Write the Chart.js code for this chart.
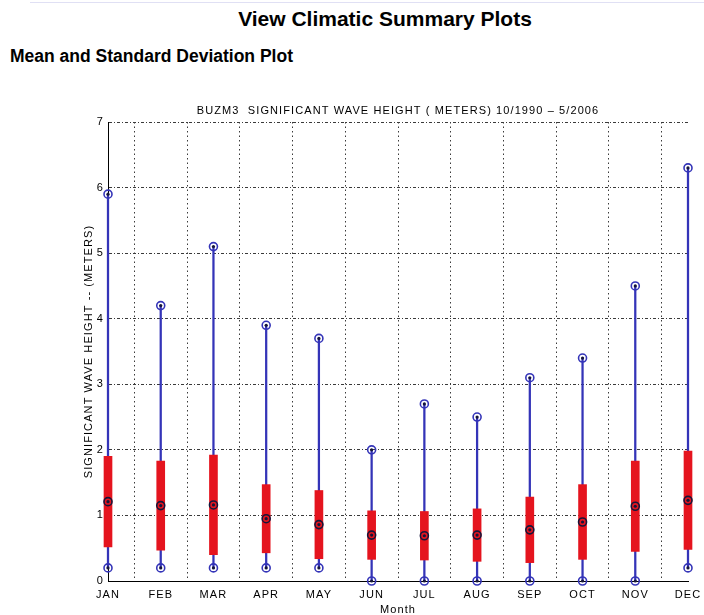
<!DOCTYPE html>
<html>
<head>
<meta charset="utf-8">
<script src="https://cdn.jsdelivr.net/npm/chart.js@4/dist/chart.umd.min.js"></script>
<style>
  html, body { margin: 0; padding: 0; background: #fff; }
  body { width: 704px; height: 615px; position: relative; overflow: hidden; font-family: "Liberation Sans", Arial, sans-serif; }
  .rule { position: absolute; left: 30px; top: 2px; width: 674px; height: 1px; background: #e0e0f4; }
  h1 { position: absolute; left: 0; width: 770px; top: 8px; margin: 0; font-size: 21px; line-height: 21px; font-weight: bold; text-align: center; color: #000; }
  h2 { position: absolute; left: 10px; top: 48px; margin: 0; font-size: 17.5px; line-height: 17.5px; font-weight: bold; color: #000; }
  #wrap { position: absolute; left: 0; top: 0; width: 704px; height: 615px; }
</style>
</head>
<body>
<div class="rule"></div>
<h1>View Climatic Summary Plots</h1>
<h2>Mean and Standard Deviation Plot</h2>
<div id="wrap"><canvas id="chart" width="704" height="615"></canvas></div>
<script>
// Monthly significant wave height statistics, station BUZM3
const months = ['JAN', 'FEB', 'MAR', 'APR', 'MAY', 'JUN', 'JUL', 'AUG', 'SEP', 'OCT', 'NOV', 'DEC'];
const meanHs = [1.21, 1.15, 1.16, 0.95, 0.86, 0.70, 0.69, 0.70, 0.78, 0.90, 1.14, 1.23];
const stdHs  = [0.69, 0.68, 0.76, 0.52, 0.52, 0.37, 0.37, 0.40, 0.50, 0.57, 0.69, 0.75];
const maxHs  = [5.9, 4.2, 5.1, 3.9, 3.7, 2.0, 2.7, 2.5, 3.1, 3.4, 4.5, 6.3];
const minHs  = [0.2, 0.2, 0.2, 0.2, 0.2, 0.0, 0.0, 0.0, 0.0, 0.0, 0.0, 0.2];
const yTicks = [0, 1, 2, 3, 4, 5, 6, 7];

const BLUE = '#3434b8';
const RED = '#e5141e';
const DARK = '#15153a';
const FONT = { family: '"Liberation Sans", Arial, sans-serif', size: 11, weight: 'normal' };

const rangeBars = months.map((m, i) => [minHs[i], maxHs[i]]);
const stdBars = months.map((m, i) => [meanHs[i] - stdHs[i], meanHs[i] + stdHs[i]]);

function markers(values, ring, order) {
  return {
    type: 'line', data: values, showLine: false, clip: false, order: order,
    pointStyle: 'circle', pointRadius: 4, pointHoverRadius: 4,
    pointBorderWidth: 1.6, pointBorderColor: ring, pointBackgroundColor: 'rgba(255,255,255,0)'
  };
}
function centres(values, order) {
  return {
    type: 'line', data: values, showLine: false, clip: false, order: order,
    pointStyle: 'circle', pointRadius: 1.6, pointHoverRadius: 1.6,
    pointBorderWidth: 0, pointBackgroundColor: DARK
  };
}

// Plot text is set with slightly open letter spacing
const spacedText = {
  id: 'spacedText',
  beforeUpdate(chart) { chart.ctx.letterSpacing = '1.1px'; },
  beforeDraw(chart) { chart.ctx.letterSpacing = '1.1px'; }
};

new Chart(document.getElementById('chart'), {
  type: 'bar',
  plugins: [spacedText],
  data: {
    labels: months,
    datasets: [
      { data: rangeBars, backgroundColor: BLUE, barThickness: 1.6, grouped: false, clip: false, order: 6, borderWidth: 0 },
      { data: stdBars, backgroundColor: RED, barThickness: 8, grouped: false, clip: false, order: 5, borderWidth: 0 },
      markers(maxHs, BLUE, 4),
      markers(minHs, BLUE, 4),
      markers(meanHs, DARK, 3),
      centres(maxHs, 1),
      centres(minHs, 1),
      centres(meanHs, 1)
    ]
  },
  options: {
    responsive: false,
    animation: false,
    events: [],
    layout: { padding: { left: 77, right: 16, top: 104, bottom: 0 } },
    plugins: {
      legend: { display: false },
      tooltip: { enabled: false },
      title: {
        display: true,
        fullSize: false,
        text: 'BUZM3  SIGNIFICANT WAVE HEIGHT ( METERS) 10/1990 \u2013 5/2006',
        color: '#000',
        font: FONT,
        padding: { top: 0, bottom: 4.8 }
      }
    },
    scales: {
      x: {
        offset: false,
        grid: { color: '#3a3a3a', lineWidth: 1, drawTicks: false },
        border: { display: true, color: '#000', width: 1, dash: [1.5, 3] },
        ticks: { color: '#000', padding: 7, maxRotation: 0, autoSkip: false, font: FONT },
        title: { display: true, text: 'Month', color: '#000', padding: { top: 0, bottom: -2 }, font: FONT },
        afterFit(scale) { scale.height = 34; scale.paddingLeft = 0; scale.paddingRight = 0; }
      },
      y: {
        min: 0, max: 7,
        afterBuildTicks(scale) { scale.ticks = yTicks.map(v => ({ value: v })); },
        grid: { color: '#3a3a3a', lineWidth: 1, drawTicks: false },
        border: { display: true, color: '#000', width: 1, dash: [3, 2, 1, 2] },
        ticks: { color: '#000', padding: 4, font: FONT },
        title: { display: true, text: 'SIGNIFICANT WAVE HEIGHT -- (METERS)', color: '#000', padding: { top: 5, bottom: 0 }, font: FONT },
        afterFit(scale) { scale.width = 31; scale.paddingTop = 0; scale.paddingBottom = 0; }
      }
    }
  }
});
</script>
</body>
</html>
